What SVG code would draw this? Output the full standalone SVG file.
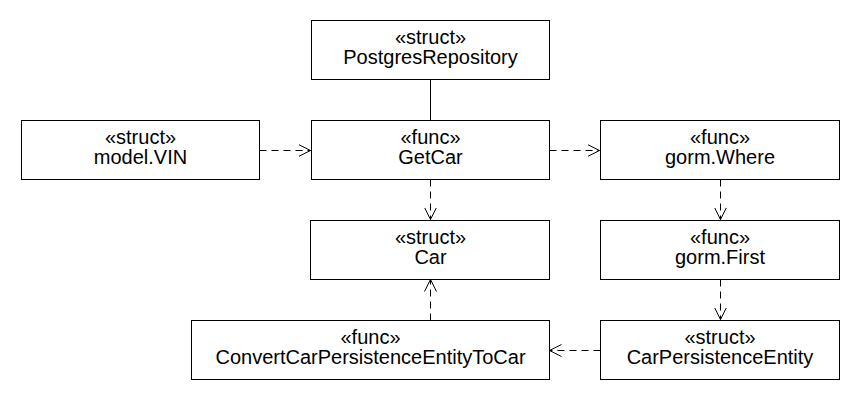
<svg xmlns="http://www.w3.org/2000/svg" width="860" height="400" viewBox="0 0 860 400">
  <defs>
    <style>
      .box { fill: #ffffff; stroke: #000000; stroke-width: 1; }
      .lbl { font-family: "Liberation Sans", Arial, sans-serif; font-size: 20px; fill: #000000; text-anchor: middle; }
      .dep { fill: none; stroke: #000000; stroke-width: 1; stroke-dasharray: 7 5; }
      .assoc { fill: none; stroke: #000000; stroke-width: 1; }
    </style>
    <marker id="open" viewBox="0 0 12 14" refX="12" refY="7" markerWidth="12" markerHeight="14" markerUnits="userSpaceOnUse" orient="auto">
      <path d="M0,1 L12,7 L0,13" fill="none" stroke="#000000" stroke-width="1"/>
    </marker>
  </defs>
  <rect width="860" height="400" fill="#ffffff"/>

  <!-- connectors -->
  <g id="connectors">
    <line class="assoc" x1="430.5" y1="79.5" x2="430.5" y2="120.5"/>
    <line class="dep" x1="259.5" y1="150.5" x2="310.5" y2="150.5" marker-end="url(#open)"/>
    <line class="dep" x1="549.5" y1="150.5" x2="599.5" y2="150.5" marker-end="url(#open)"/>
    <line class="dep" x1="430.5" y1="179.5" x2="430.5" y2="219.5" marker-end="url(#open)"/>
    <line class="dep" x1="720.5" y1="179.5" x2="720.5" y2="219.5" marker-end="url(#open)"/>
    <line class="dep" x1="720.5" y1="279.5" x2="720.5" y2="319.5" marker-end="url(#open)"/>
    <line class="dep" x1="430.5" y1="320.5" x2="430.5" y2="279.5" marker-end="url(#open)"/>
    <line class="dep" x1="600.5" y1="350.5" x2="549.5" y2="350.5" marker-end="url(#open)"/>
  </g>

  <!-- nodes -->
  <g id="PostgresRepository">
    <rect class="box" x="311.5" y="20.5" width="238" height="59"/>
    <text class="lbl" x="430.5" y="44">«struct»</text>
    <text class="lbl" x="430.5" y="64">PostgresRepository</text>
  </g>
  <g id="modelVIN">
    <rect class="box" x="21.5" y="120.5" width="238" height="59"/>
    <text class="lbl" x="140.5" y="144">«struct»</text>
    <text class="lbl" x="140.5" y="164">model.VIN</text>
  </g>
  <g id="GetCar">
    <rect class="box" x="311.5" y="120.5" width="238" height="59"/>
    <text class="lbl" x="430.5" y="144">«func»</text>
    <text class="lbl" x="430.5" y="164">GetCar</text>
  </g>
  <g id="gormWhere">
    <rect class="box" x="600.5" y="120.5" width="239" height="59"/>
    <text class="lbl" x="720" y="144">«func»</text>
    <text class="lbl" x="720" y="164">gorm.Where</text>
  </g>
  <g id="Car">
    <rect class="box" x="310.5" y="220.5" width="239" height="59"/>
    <text class="lbl" x="430.5" y="244">«struct»</text>
    <text class="lbl" x="430.5" y="264">Car</text>
  </g>
  <g id="gormFirst">
    <rect class="box" x="600.5" y="220.5" width="239" height="59"/>
    <text class="lbl" x="720" y="244">«func»</text>
    <text class="lbl" x="720" y="264">gorm.First</text>
  </g>
  <g id="ConvertCarPersistenceEntityToCar">
    <rect class="box" x="191.5" y="320.5" width="358" height="59"/>
    <text class="lbl" x="370.5" y="344">«func»</text>
    <text class="lbl" x="370.5" y="364">ConvertCarPersistenceEntityToCar</text>
  </g>
  <g id="CarPersistenceEntity">
    <rect class="box" x="600.5" y="320.5" width="239" height="59"/>
    <text class="lbl" x="720" y="344">«struct»</text>
    <text class="lbl" x="720" y="364">CarPersistenceEntity</text>
  </g>
</svg>
